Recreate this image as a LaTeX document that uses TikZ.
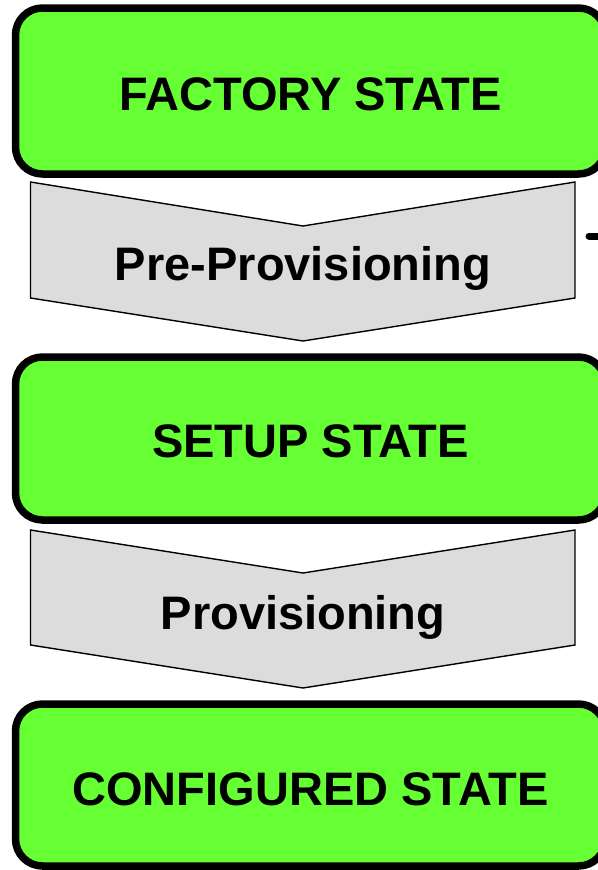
\documentclass[tikz,border=0pt]{standalone}
\usepackage{fontspec}
\setmainfont{Liberation Sans}
\tikzset{
  statebox/.style={draw=black, line width=7.5pt, fill=stategreen,
    rounded corners=27pt, inner sep=0pt},
  stepshape/.style={draw=black, line width=1.4pt, fill=stepgray, line join=miter},
  statelabel/.style={anchor=base, inner sep=0pt,
    font=\fontsize{47}{50}\selectfont\bfseries},
  steplabel/.style={anchor=base, inner sep=0pt,
    font=\fontsize{47}{50}\selectfont\bfseries},
}
\definecolor{stategreen}{HTML}{66FF33}
\definecolor{stepgray}{HTML}{DCDCDC}
\begin{document}
\begin{tikzpicture}[x=1pt, y=-1pt]
  \useasboundingbox (0,0) rectangle (597,870);

  % state boxes
  \node[statebox, minimum width=590pt, minimum height=166pt] (factory) at (310.5,91) {};
  \node[statebox, minimum width=590pt, minimum height=163pt] (setup) at (310.5,438.5) {};
  \node[statebox, minimum width=590pt, minimum height=162pt] (configured) at (310.5,785) {};

  \node[statelabel] (factorytext) at (310.5,110.7) {FACTORY STATE};
  \node[statelabel] (setuptext) at (310.5,457.3) {SETUP STATE};
  \node[statelabel] (configuredtext) at (310.5,805) {CONFIGURED STATE};

  % transition chevrons
  \draw[stepshape] (30.5,182) -- (303,226) -- (575,182) -- (575,298)
    -- (303,341) -- (30.5,298) -- cycle;
  \draw[stepshape] (30.5,530) -- (303,573) -- (575,530) -- (575,645)
    -- (303,688) -- (30.5,645) -- cycle;

  \node[steplabel] (preprov) at (303,280) {Pre-Provisioning};
  \node[steplabel] (prov) at (303,629.3) {Provisioning};

  % stub of a side connector
  \coordinate (sidestart) at (589,236);
  \coordinate (sideend) at (604,236);
  \draw[line width=7pt, line cap=round] (sidestart) -- (sideend);
\end{tikzpicture}
\end{document}
